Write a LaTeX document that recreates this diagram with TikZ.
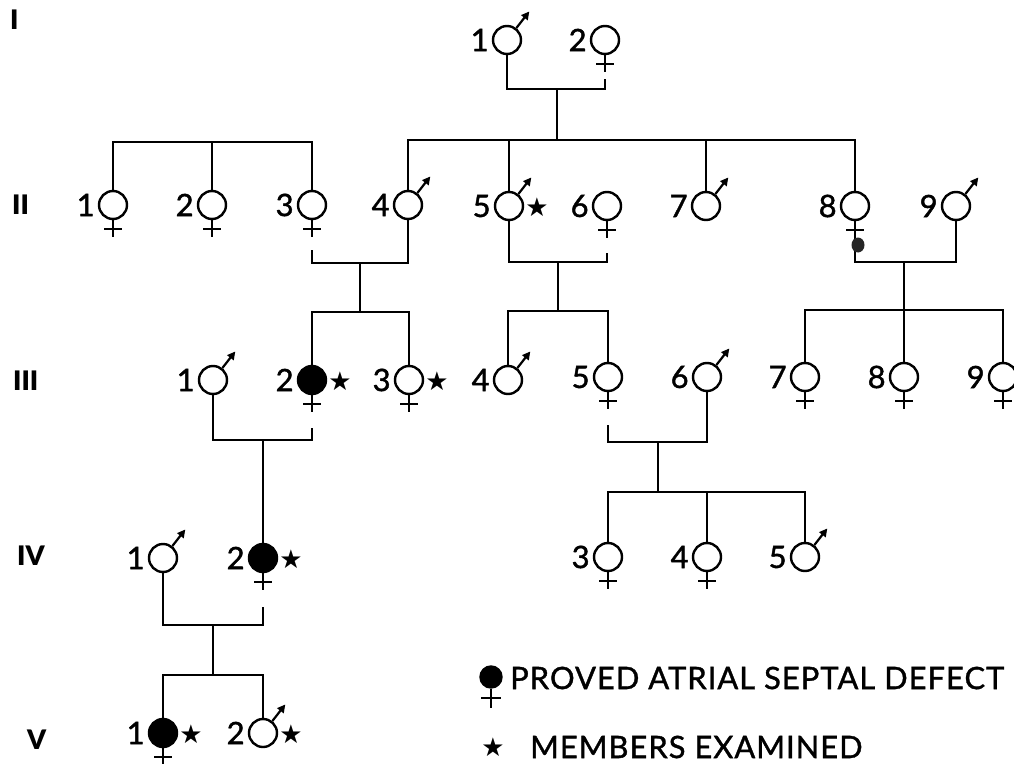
\documentclass[tikz,border=0pt]{standalone}
\usepackage{fontspec}
\setmainfont{Lato}
\newfontfamily\lblfont{Lato}[FakeBold=1.4]
\newfontfamily\lgdfont{Lato}[FakeBold=1.2,LetterSpace=3.3]
\newfontfamily\genfont{Lato Black}
\newfontfamily\symfont{DejaVu Sans}
\usetikzlibrary{arrows.meta}
\newcommand\Male[4][person]{%
  \node[#1] (#2) at (#3) {};
  \draw[marrow] (#2.52) -- ++(52:21bp);
  \node[numlbl] (#2l) at ([xshift=-2bp]#2.west) {#4};
}
\newcommand\Female[4][person]{%
  \node[#1] (#2) at (#3) {};
  \draw (#2.south) -- ++(0,-17bp);
  \draw ([shift={(-9bp,-9bp)}]#2.south) -- ++(18bp,0);
  \node[numlbl] (#2l) at ([xshift=-2bp]#2.west) {#4};
}
\newcommand\Examined[1]{%
  \node[starmark] (#1s) at ([xshift=28bp,yshift=-1bp]#1.center) {★};
}
\begin{document}
\begin{tikzpicture}[x=1bp,y=1bp,
  line width=2.4bp,
  person/.style={circle,draw,line width=2.4bp,minimum size=28bp,inner sep=0pt,fill=white},
  affected/.style={person,fill=black},
  numlbl/.style={anchor=east,inner sep=0pt,font=\lblfont\fontsize{31}{33}\selectfont},
  gen/.style={anchor=west,inner sep=0pt,font=\genfont\fontsize{27}{30}\selectfont},
  starmark/.style={inner sep=0pt,font=\symfont\fontsize{26}{28}\selectfont},
  legend/.style={anchor=west,inner sep=0pt,font=\lgdfont\fontsize{31}{33}\selectfont},
  marrow/.style={-{Triangle[length=8bp,width=8bp]},line width=2.2bp},
]
\useasboundingbox (0,0) rectangle (1014,-764);
\clip (0,0) rectangle (1014,-764);

% generation labels
\node[gen] (gI) at (9,-20) {I};
\node[gen] (gII) at (11,-205) {II};
\node[gen] (gIII) at (12,-381) {III};
\node[gen] (gIV) at (16,-556) {IV};
\node[gen] (gV) at (26,-740) {V};

% generation I
\Male{I1}{507,-40}{1}
\Female{I2}{605,-40}{2}
\coordinate (I2e) at (605,-79);
\coordinate (m1) at (557,-89);
\coordinate (s1) at (557,-140);
\draw (I1.south) |- (m1) -| (I2e);
\draw (m1) -- (s1);

% generation II
\Female{II1}{113,-205}{1}
\Female{II2}{212,-205}{2}
\Female{II3}{312,-205}{3}
\Male{II4}{408,-205}{4}
\Male{II5}{509,-206}{5}
\Examined{II5}
\Female{II6}{607,-206}{6}
\Male{II7}{706,-206}{7}
\Female{II8}{855,-206}{8}
\Male{II9}{956,-206}{9}

\coordinate (s0) at (212,-142);
\draw (II1.north) |- (s0) -| (II3.north);
\draw (II2.north) -- (s0);
\draw (II4.north) |- (s1) -| (II8.north);
\draw (II5.north) -- (II5.north |- s1);
\draw (II7.north) -- (II7.north |- s1);

% generation III
\Male{III1}{213,-380}{1}
\Female[affected]{III2}{312,-380}{2}
\Examined{III2}
\Female{III3}{409,-380}{3}
\Examined{III3}
\Male{III4}{508,-380}{4}
\Female{III5}{608,-377}{5}
\Male{III6}{707,-377}{6}
\Female{III7}{805,-377}{7}
\Female{III8}{904,-377}{8}
\Female{III9}{1003,-377}{9}

% II-3 x II-4
\coordinate (II3e) at (312,-250);
\coordinate (m2) at (360,-263);
\coordinate (s2) at (360,-312);
\draw (II3e) |- (m2) -| (II4.south);
\draw (m2) -- (s2);
\draw (III2.north) |- (s2) -| (III3.north);

% II-5 x II-6
\coordinate (II6e) at (607,-253);
\coordinate (m3) at (558,-262);
\coordinate (s3) at (558,-311);
\draw (II5.south) |- (m3) -| (II6e);
\draw (m3) -- (s3);
\draw (III4.north) |- (s3) -| (III5.north);

% II-8 x II-9
\coordinate (II8e) at (855,-237);
\coordinate (m4) at (904,-262);
\coordinate (s4) at (904,-310);
\draw (II8e) |- (m4) -| (II9.south);
\fill[black!85] (858,-245) ellipse (6.5 and 7.5);
\draw (m4) -- (s4);
\draw (III7.north) |- (s4) -| (III9.north);
\draw (III8.north) -- (s4);

% generation IV
\Male{IV1}{163,-558}{1}
\Female[affected]{IV2}{263,-558}{2}
\Examined{IV2}
\Female{IV3}{608,-557}{3}
\Female{IV4}{707,-557}{4}
\Male{IV5}{805,-557}{5}

% III-1 x III-2
\coordinate (III2e) at (312,-428);
\coordinate (m5) at (263,-440);
\draw (III1.south) |- (m5) -| (III2e);
\draw (m5) -- (IV2.north);

% III-5 x III-6
\coordinate (III5e) at (608,-425);
\coordinate (m6) at (658,-442);
\coordinate (s6) at (658,-492);
\draw (III5e) |- (m6) -| (III6.south);
\draw (m6) -- (s6);
\draw (IV3.north) |- (s6) -| (IV5.north);
\draw (IV4.north) -- (IV4.north |- s6);

% generation V
\Female[affected]{V1}{163,-733}{1}
\Examined{V1}
\Male{V2}{263,-733}{2}
\Examined{V2}

% IV-1 x IV-2
\coordinate (IV2e) at (263,-607);
\coordinate (m7) at (213,-625);
\coordinate (s7) at (213,-675);
\draw (IV1.south) |- (m7) -| (IV2e);
\draw (m7) -- (s7);
\draw (V1.north) |- (s7) -| (V2.north);

% legend
\node[affected,minimum size=21bp] (lg) at (491,-677) {};
\draw (lg.south) -- ++(0,-19bp);
\draw ([shift={(-10bp,-9bp)}]lg.south) -- ++(20bp,0);
\node[legend] (lt1) at (509,-678) {PROVED ATRIAL SEPTAL DEFECT};
\node[starmark] (ls) at (493,-747) {★};
\node[legend] (lt2) at (529,-747) {MEMBERS EXAMINED};
\end{tikzpicture}
\end{document}
